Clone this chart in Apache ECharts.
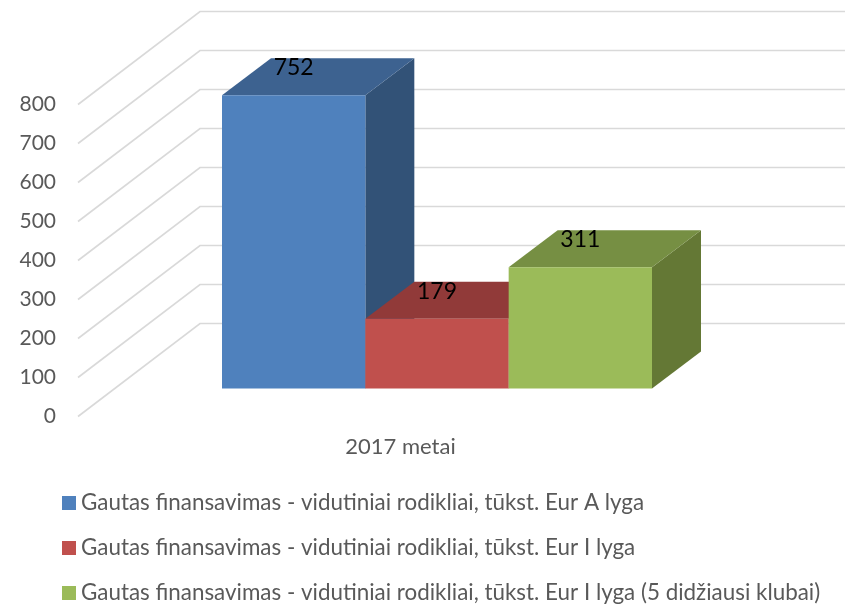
<!DOCTYPE html>
<html>
<head>
<meta charset="utf-8">
<style>
html, body { margin: 0; padding: 0; background: #fff; }
#chart { width: 845px; height: 605px; }
</style>
<script src="https://cdn.jsdelivr.net/npm/echarts@6/dist/echarts.min.js"></script>
</head>
<body>
<div id="chart"></div>
<script>
var categories = ['2017 metai'];
var seriesNames = [
    'Gautas finansavimas - vidutiniai rodikliai, tūkst. Eur A lyga',
    'Gautas finansavimas - vidutiniai rodikliai, tūkst. Eur I lyga',
    'Gautas finansavimas - vidutiniai rodikliai, tūkst. Eur I lyga (5 didžiausi klubai)'
];
var aLyga = [752];
var iLyga = [179];
var iLygaTop5 = [311];
var yTicks = [0, 100, 200, 300, 400, 500, 600, 700, 800];

var frontColors = ['#4F81BD', '#C0504D', '#9BBB59'];
var topColors = ['#3D6290', '#913A39', '#768F43'];
var sideColors = ['#325277', '#7A3130', '#647835'];

var chart = echarts.init(document.getElementById('chart'));

// wall lines: front edge of the floor -> back wall -> right side
function renderWall(params, api) {
    var p = api.coord([0, api.value(0)]);
    var cs = params.coordSys;
    return {
        type: 'polyline',
        silent: true,
        shape: { points: [[cs.x, p[1]], [cs.x + 122, p[1] - 93], [845, p[1] - 93]] },
        style: { fill: null, stroke: '#D9D9D9', lineWidth: 1.6 }
    };
}

function barRenderer(idx) {
    return function (params, api) {
        var v = api.value(0);
        var top = api.coord([0, v]);
        var base = api.coord([0, 0]);
        var w = api.size([1, 0])[0] / 4.5;
        // bars stand a bit inside the floor, not on its front edge
        var x0 = top[0] + 36.5 - 1.5 * w + idx * w;
        var x1 = x0 + w;
        var y0 = base[1] - 28;
        var y1 = top[1] - 28;
        var dx = 49, dy = 37;
        return {
            type: 'group',
            children: [
                {
                    type: 'polygon',
                    shape: { points: [[x1, y1], [x1 + dx, y1 - dy], [x1 + dx, y0 - dy], [x1, y0]] },
                    style: { fill: sideColors[idx] }
                },
                {
                    type: 'polygon',
                    shape: { points: [[x0, y1], [x0 + dx, y1 - dy], [x1 + dx, y1 - dy], [x1, y1]] },
                    style: { fill: topColors[idx] }
                },
                {
                    type: 'rect',
                    shape: { x: x0, y: y1, width: w, height: y0 - y1 },
                    style: { fill: frontColors[idx] }
                },
                {
                    type: 'text',
                    style: {
                        x: (x0 + x1) / 2,
                        y: y1 - 27.5,
                        text: String(v),
                        fill: '#000',
                        font: '23px Lato',
                        align: 'center',
                        verticalAlign: 'middle'
                    }
                }
            ]
        };
    };
}

var option = {
    animation: false,
    backgroundColor: '#fff',
    color: frontColors,
    textStyle: { fontFamily: 'Lato' },
    grid: { left: 78, top: 104.5, width: 645, height: 312 },
    xAxis: {
        type: 'category',
        data: categories,
        axisLine: { show: false },
        axisTick: { show: false },
        axisLabel: { color: '#595959', fontSize: 22, margin: 19 }
    },
    yAxis: {
        type: 'value',
        min: 0,
        max: 800,
        interval: 100,
        axisLine: { show: false },
        axisTick: { show: false },
        splitLine: { show: false },
        axisLabel: { color: '#595959', fontSize: 21, margin: 22 }
    },
    legend: {
        orient: 'vertical',
        left: 62,
        top: 492,
        padding: 0,
        itemWidth: 14,
        itemHeight: 14,
        itemGap: 23,
        icon: 'rect',
        data: seriesNames,
        textStyle: { color: '#595959', fontSize: 22.4 }
    },
    series: [
        { type: 'custom', name: 'wall', z: 1, silent: true, renderItem: renderWall, encode: { y: 0 }, data: yTicks.map(function (t) { return [t]; }) },
        { type: 'custom', name: seriesNames[0], z: 2, renderItem: barRenderer(0), encode: { y: 0 }, itemStyle: { color: frontColors[0] }, data: aLyga.map(function (t) { return [t]; }) },
        { type: 'custom', name: seriesNames[1], z: 3, renderItem: barRenderer(1), encode: { y: 0 }, itemStyle: { color: frontColors[1] }, data: iLyga.map(function (t) { return [t]; }) },
        { type: 'custom', name: seriesNames[2], z: 4, renderItem: barRenderer(2), encode: { y: 0 }, itemStyle: { color: frontColors[2] }, data: iLygaTop5.map(function (t) { return [t]; }) }
    ]
};
chart.setOption(option);
</script>
</body>
</html>
